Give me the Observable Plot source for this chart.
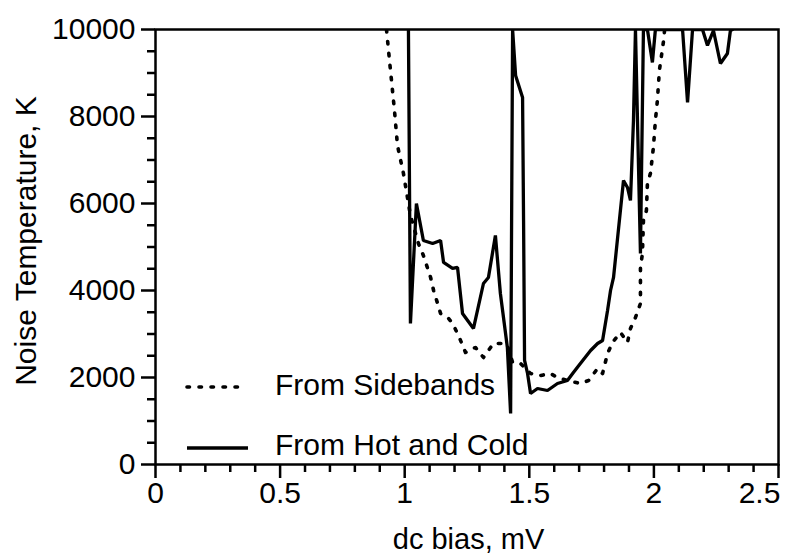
<!DOCTYPE html>
<html><head><meta charset="utf-8">
<script src="https://cdn.jsdelivr.net/npm/d3@7"></script>
<script src="https://cdn.jsdelivr.net/npm/@observablehq/plot@0.6"></script>
<style>body{margin:0;background:#fff}</style>
</head><body><div id="chart"></div>
<script>
// ---- data ----
const seriesNames = ["From Sidebands", "From Hot and Cold"];

const sidebandsX = [0.927,0.939,0.947,0.959,0.971,0.995,1.023,1.055,1.075,1.104,1.116,1.132,1.144,1.176,1.192,1.216,1.244,1.284,1.316,1.356,1.396,1.412,1.433,1.465,1.505,1.545,1.585,1.613,1.653,1.705,1.738,1.774,1.794,1.814,1.834,1.866,1.894,1.906,1.926,1.946,1.946,1.954,1.958,1.970,1.974,1.986,1.998,2.006,2.014,2.022,2.039,2.043];
const sidebandsY = [10000,9288,8828,8138,7334,6690,5725,5081,4805,4299,4000,3701,3471,3357,3242,2966,2575,2690,2460,2782,2782,2736,2345,2322,2092,2046,2092,2000,1931,1862,1931,2207,2092,2552,2805,3035,2805,3127,3380,3701,4529,4851,5610,5839,6460,6690,7288,7909,8368,9058,9748,10000];

const hotColdX = [1.015,1.023,1.047,1.075,1.112,1.144,1.156,1.192,1.212,1.232,1.276,1.316,1.336,1.364,1.384,1.412,1.425,1.433,1.445,1.473,1.477,1.481,1.493,1.505,1.533,1.573,1.613,1.653,1.677,1.705,1.746,1.774,1.794,1.814,1.826,1.838,1.878,1.894,1.906,1.918,1.926,1.946,1.958,1.974,1.994,2.006,2.115,2.135,2.155,2.195,2.215,2.239,2.267,2.295,2.307,2.315];
const hotColdY = [10000,3242,6000,5150,5081,5150,4644,4506,4529,3471,3127,4161,4299,5265,3931,2690,1172,10000,8943,8437,5610,2391,2092,1632,1747,1701,1862,1931,2115,2322,2621,2782,2851,3540,4000,4299,6529,6368,6069,7909,10000,4851,10000,10000,9242,10000,10000,8322,10000,10000,9633,9977,9219,9449,9977,10000];

const xMajorTicks = [0, 0.5, 1, 1.5, 2];
const xLastTick = [2.5];
const xMinorTicks = [0.1,0.2,0.3,0.4,0.6,0.7,0.8,0.9,1.1,1.2,1.3,1.4,1.6,1.7,1.8,1.9,2.1,2.2,2.3,2.4];
const yMajorTicks = [0, 2000, 4000, 6000, 8000, 10000];
const yMinorTicks = [500,1000,1500,2500,3000,3500,4500,5000,5500,6500,7000,7500,8500,9000,9500];

const xLabel = "dc bias, mV";
const yLabel = "Noise Temperature, K";

// ---- build ----
const sidebands = sidebandsX.map((x, i) => ({x, y: sidebandsY[i]}));
const hotCold = hotColdX.map((x, i) => ({x, y: hotColdY[i]}));

const fontFamily = "'Liberation Sans', Arial, Helvetica, sans-serif";
const dotted = {strokeWidth: 3.6, dash: "2.5,9.5", cap: "round"};
const solid = {strokeWidth: 3.3};

function annotations(index, scales, values, dims) {
  const g = d3.create("svg:g")
    .attr("font-family", fontFamily)
    .attr("fill", "black")
    .attr("text-anchor", "start");
  const x0 = dims.marginLeft;
  const yb = dims.height - dims.marginBottom;
  const rows = [
    {name: seriesNames[0], ly: yb - 77, ty: yb - 69, sty: dotted, x1: 32, x2: 90},
    {name: seriesNames[1], ly: yb - 16, ty: yb - 9, sty: solid, x1: 32, x2: 93}
  ];
  for (const r of rows) {
    g.append("line")
      .attr("x1", x0 + r.x1).attr("x2", x0 + r.x2)
      .attr("y1", r.ly).attr("y2", r.ly)
      .attr("stroke", "black")
      .attr("stroke-width", r.sty.strokeWidth)
      .attr("stroke-linecap", r.sty.cap || "butt")
      .attr("stroke-dasharray", r.sty.dash || null);
    g.append("text")
      .attr("x", x0 + 120).attr("y", r.ty)
      .attr("font-size", 30)
      .text(r.name);
  }
  // axis titles
  const xMid = (dims.marginLeft + dims.width - dims.marginRight) / 2;
  g.append("text")
    .attr("x", xMid + 2).attr("y", dims.height - 5)
    .attr("text-anchor", "middle")
    .attr("font-size", 29)
    .text(xLabel);
  g.append("text")
    .attr("transform", `translate(36,${dims.marginTop + 212}) rotate(-90)`)
    .attr("text-anchor", "middle")
    .attr("font-size", 30)
    .text(yLabel);
  return g.node();
}

const chart = Plot.plot({
  width: 800,
  height: 554,
  marginLeft: 155,
  marginRight: 22,
  marginTop: 29,
  marginBottom: 90,
  x: {domain: [0, 2.5]},
  y: {domain: [0, 10000]},
  style: {fontFamily, background: "white", color: "black", overflow: "visible"},
  marks: [
    Plot.line(sidebands, {x: "x", y: "y", stroke: "black", strokeWidth: dotted.strokeWidth, strokeDasharray: dotted.dash, strokeLinecap: dotted.cap, clip: true}),
    Plot.line(hotCold, {x: "x", y: "y", stroke: "black", strokeWidth: solid.strokeWidth, strokeLinejoin: "miter", clip: true}),
    Plot.frame({stroke: "black", strokeWidth: 2.5}),
    Plot.axisX({ticks: xMinorTicks, tickSize: 8, strokeWidth: 2.5, fill: "none", label: null}),
    Plot.axisX({ticks: xMajorTicks, tickSize: 14, strokeWidth: 2.5, tickPadding: 3, fontSize: 30, tickFormat: d => String(d), label: null}),
    Plot.axisX({ticks: xLastTick, tickSize: 14, strokeWidth: 2.5, fill: "none", label: null}),
    Plot.axisX({ticks: xLastTick, tickSize: 14, stroke: "none", tickPadding: 3, dx: -19, fontSize: 30, tickFormat: d => String(d), label: null}),
    Plot.axisY({ticks: yMinorTicks, tickSize: 8, strokeWidth: 2.5, fill: "none", label: null}),
    Plot.axisY({ticks: yMajorTicks, tickSize: 14, strokeWidth: 2.5, tickPadding: 6, fontSize: 30, tickFormat: d => String(d), label: null}),
    annotations
  ]
});
document.getElementById("chart").append(chart);
</script>
</body></html>
